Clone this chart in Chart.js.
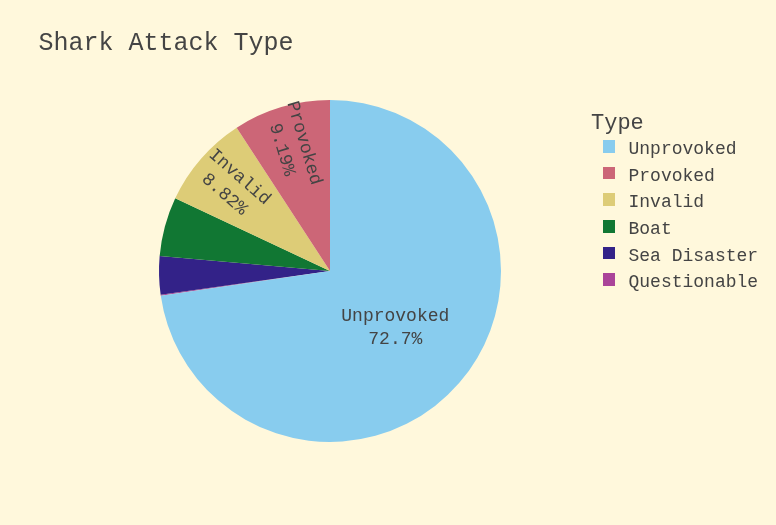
<!DOCTYPE html>
<html>
<head>
<meta charset="utf-8">
<title>Shark Attack Type</title>
<script src="https://cdn.jsdelivr.net/npm/chart.js@4"></script>
<style>
  html, body { margin: 0; padding: 0; background: #fff8dc; }
  #wrap { position: relative; width: 776px; height: 525px; overflow: hidden;
          font-family: "Liberation Mono", "Courier New", monospace; color: #444; }
  #chart { position: absolute; left: 0; top: 0; }
  #title { position: absolute; left: 38.5px; top: 29.3px; font-size: 25px; line-height: 30px; white-space: pre; }
  #legend-title { position: absolute; left: 591px; top: 111px; font-size: 22px; line-height: 26px; }
  .leg-row { position: absolute; left: 602.5px; height: 26.6px; font-size: 18px; line-height: 26.6px; white-space: pre; }
  .leg-box { position: absolute; left: 0; top: 4px; width: 12.5px; height: 12.5px; }
  .leg-text { position: absolute; left: 26px; top: 0; }
</style>
</head>
<body>
<div id="wrap">
  <canvas id="chart" width="776" height="525"></canvas>
  <div id="title">Shark Attack Type</div>
  <div id="legend-title">Type</div>
  <div id="legend"></div>
</div>
<script>
"use strict";

/* ─── Data ─────────────────────────────────────────────────── */

/* Attack types, in legend order */
const TYPES = ["Unprovoked", "Provoked", "Invalid", "Boat", "Sea Disaster", "Questionable"];

/* Share of attacks per type, percent */
const SHARES = [72.7, 9.19, 8.82, 5.6, 3.6, 0.09];

/* Slice colours (Plotly "Safe" palette) */
const COLORS = ["#88CCEE", "#CC6677", "#DDCC77", "#117733", "#332288", "#AA4499"];

const FONT = '"Liberation Mono", "Courier New", monospace';

/* ─── Legend ───────────────────────────────────────────────── */

function buildLegend() {
  const box = document.getElementById("legend");
  TYPES.forEach(function (name, i) {
    const row = document.createElement("div");
    row.className = "leg-row";
    row.style.top = (136.2 + i * 26.6) + "px";
    row.innerHTML = '<span class="leg-box" style="background:' + COLORS[i] + '"></span>' +
                    '<span class="leg-text">' + name + '</span>';
    box.appendChild(row);
  });
}

/* ─── Inside slice labels ──────────────────────────────────── */

/*
 * Writes "name / pct%" inside the slices that are big enough.
 * The largest slice gets horizontal text, the others radial text.
 */
const sliceLabels = {
  id: "sliceLabels",
  afterDatasetsDraw: function (chart) {
    const ctx = chart.ctx;
    const values = chart.data.datasets[0].data;
    const total = values.reduce(function (a, b) { return a + b; }, 0);
    const arcs = chart.getDatasetMeta(0).data;

    ctx.save();
    ctx.font = "18px " + FONT;
    ctx.fillStyle = "#444";
    ctx.textAlign = "center";
    ctx.textBaseline = "middle";

    arcs.forEach(function (arc, i) {
      const frac = values[i] / total;
      if (frac < 0.08) return;
      const p = arc.getProps(["x", "y", "startAngle", "endAngle", "outerRadius"], true);
      const mid = (p.startAngle + p.endAngle) / 2;
      const pct = (frac * 100).toPrecision(3) + "%";
      const lines = [chart.data.labels[i], pct];

      if (frac > 0.5) {
        const r = p.outerRadius * 0.505;
        const cx = p.x + Math.cos(mid) * r;
        const cy = p.y + Math.sin(mid) * r;
        ctx.fillText(lines[0], cx, cy - 11.5);
        ctx.fillText(lines[1], cx, cy + 11.5);
      } else {
        const r = p.outerRadius * 0.76;
        const cx = p.x + Math.cos(mid) * r;
        const cy = p.y + Math.sin(mid) * r;
        ctx.translate(cx, cy);
        ctx.rotate(mid + Math.PI);   /* read from the rim toward the centre */
        ctx.fillText(lines[0], 0, -11.5);
        ctx.fillText(lines[1], 0, 11.5);
        ctx.setTransform(1, 0, 0, 1, 0, 0);
      }
    });
    ctx.restore();
  },
};

/* ─── Chart ────────────────────────────────────────────────── */

/*
 * Slices run counterclockwise in legend order, with the first one
 * ending at 12 o'clock. Chart.js only goes clockwise, so feed the
 * slices reversed and start where the last one begins.
 */
function drawChart() {
  const order = TYPES.map(function (_, i) { return i; }).reverse();
  const total = SHARES.reduce(function (a, b) { return a + b; }, 0);
  const startDeg = 360 * SHARES[0] / total;

  new Chart(document.getElementById("chart"), {
    type: "pie",
    data: {
      labels: order.map(function (i) { return TYPES[i]; }),
      datasets: [{
        data: order.map(function (i) { return SHARES[i]; }),
        backgroundColor: order.map(function (i) { return COLORS[i]; }),
        borderWidth: 0,
      }],
    },
    options: {
      responsive: false,
      animation: false,
      rotation: startDeg,
      layout: { padding: { left: 159, top: 100, right: 275, bottom: 83 } },
      plugins: {
        legend: { display: false },
        title: { display: false },
        tooltip: { enabled: false },
      },
    },
    plugins: [sliceLabels],
  });
}

buildLegend();
drawChart();
</script>
</body>
</html>
